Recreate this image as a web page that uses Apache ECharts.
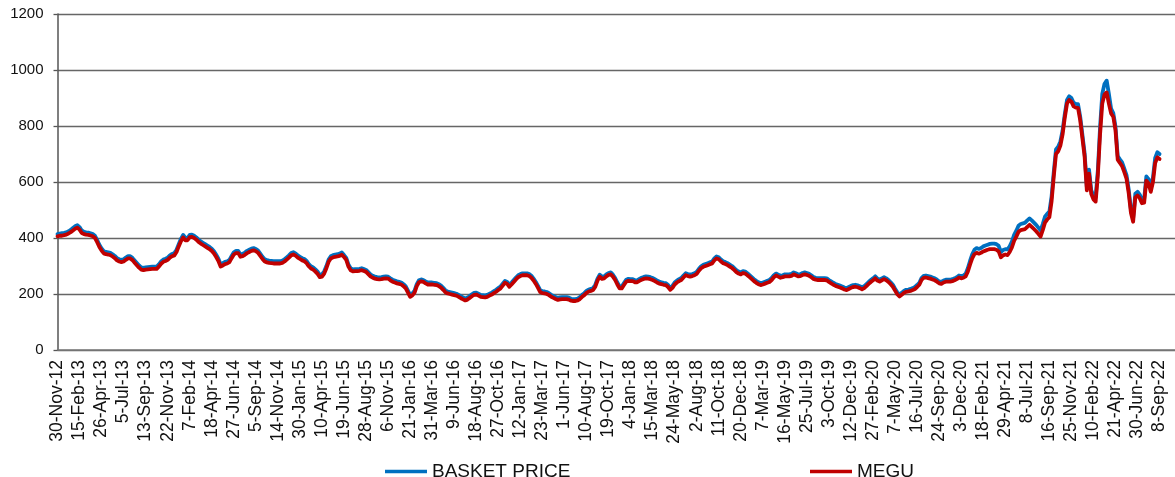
<!DOCTYPE html>
<html>
<head>
<meta charset="utf-8">
<script src="https://cdn.jsdelivr.net/npm/echarts@6/dist/echarts.min.js"></script>
<style>
html,body{margin:0;padding:0;background:#fff;}
#chart{width:1175px;height:477px;}
</style>
</head>
<body>
<div id="chart"></div>
<script>
const tickLabels = ['30-Nov-12','15-Feb-13','26-Apr-13','5-Jul-13','13-Sep-13','22-Nov-13','7-Feb-14','18-Apr-14','27-Jun-14','5-Sep-14','14-Nov-14','30-Jan-15','10-Apr-15','19-Jun-15','28-Aug-15','6-Nov-15','21-Jan-16','31-Mar-16','9-Jun-16','18-Aug-16','27-Oct-16','12-Jan-17','23-Mar-17','1-Jun-17','10-Aug-17','19-Oct-17','4-Jan-18','15-Mar-18','24-May-18','2-Aug-18','11-Oct-18','20-Dec-18','7-Mar-19','16-May-19','25-Jul-19','3-Oct-19','12-Dec-19','27-Feb-20','7-May-20','16-Jul-20','24-Sep-20','3-Dec-20','18-Feb-21','29-Apr-21','8-Jul-21','16-Sep-21','25-Nov-21','10-Feb-22','21-Apr-22','30-Jun-22','8-Sep-22'];

const basketPrice = [
414,416,417,418,420,424,429,436,442,446,
439,427,422,420,419,417,414,408,393,376,
363,353,350,349,347,342,336,328,324,322,
324,330,335,335,329,320,311,302,295,293,
295,296,297,298,298,298,306,316,323,326,
330,338,343,346,358,378,397,411,401,400,
411,412,408,402,394,388,383,378,373,368,
362,353,340,326,306,310,315,317,322,336,
349,354,354,341,343,348,354,358,362,364,
361,355,344,333,324,321,319,318,317,317,
317,317,319,324,331,338,346,349,345,338,
333,328,325,318,307,299,295,288,280,268,
270,281,300,323,335,339,341,342,344,348,
339,329,305,292,288,289,289,290,292,289,
286,278,270,265,262,260,259,260,262,263,
262,256,251,248,245,243,241,235,227,212,
197,202,212,235,249,252,250,245,241,241,
241,240,239,235,230,222,213,209,207,205,
203,201,197,192,188,184,187,193,199,204,
205,201,197,196,195,197,201,205,210,215,
221,227,237,247,243,233,241,250,259,267,
271,274,274,274,271,265,255,243,229,214,
210,209,207,203,197,193,189,186,188,189,
189,189,187,183,182,182,184,189,197,203,
211,216,218,221,233,255,269,261,263,270,
275,277,269,257,241,227,227,239,251,254,
253,253,249,249,254,258,261,263,262,260,
257,253,248,244,242,240,239,232,222,229,
241,248,253,257,266,274,271,269,271,274,
279,290,299,304,307,310,313,316,327,334,
331,323,317,314,310,305,300,293,285,280,
277,282,280,274,267,260,253,247,242,239,
241,244,247,250,257,267,273,269,265,267,
270,270,270,272,277,274,270,271,275,277,
275,272,267,261,258,257,257,257,257,256,
250,245,240,236,233,230,227,223,221,225,
229,232,233,231,228,224,228,235,243,250,
256,263,255,251,256,260,256,250,242,233,
219,206,198,204,211,215,216,218,221,225,
232,240,257,265,266,264,262,259,256,251,
245,243,248,251,251,251,253,256,260,266,
264,266,272,292,318,342,358,364,361,364,
370,373,376,379,380,380,378,372,350,357,
360,359,370,387,411,426,444,450,452,455,
463,470,463,455,447,437,427,450,476,486,
494,548,636,716,726,745,784,843,893,906,
900,883,879,878,833,768,703,583,644,571,
552,545,642,795,915,950,962,915,862,846,
798,693,681,670,648,625,573,502,470,558,
565,555,537,539,620,610,580,616,686,706,
700];

const megu = [
406,408,408,410,412,416,421,427,433,437,
430,418,414,412,411,409,406,400,385,368,
355,345,342,341,339,334,328,320,316,314,
316,322,327,327,321,312,303,294,287,285,
287,288,289,290,290,290,298,308,315,318,
322,330,335,338,350,370,388,402,392,392,
403,404,400,394,386,380,375,370,365,360,
354,345,332,318,298,302,307,309,314,328,
341,346,346,333,335,340,346,350,354,356,
353,347,336,325,316,313,311,310,309,309,
309,309,311,316,323,330,338,341,337,330,
325,320,317,310,299,291,287,280,272,260,
262,273,292,315,327,331,333,334,336,340,
332,322,298,285,281,282,282,283,285,282,
279,271,263,258,255,253,252,253,255,256,
255,249,244,241,238,236,234,228,220,205,
190,195,205,228,242,245,243,238,234,234,
234,233,232,228,223,215,206,202,200,198,
196,194,190,185,181,177,180,186,192,197,
198,194,190,189,188,190,194,198,203,208,
214,220,230,240,236,226,234,243,252,260,
264,267,267,267,264,258,248,236,222,207,
203,202,200,196,190,186,182,179,181,182,
182,182,180,176,175,175,177,182,190,196,
204,209,211,214,226,248,262,254,256,263,
268,270,262,250,234,220,220,232,244,247,
246,246,242,242,247,251,254,256,255,253,
250,246,241,237,235,233,232,225,215,222,
234,241,246,250,259,267,264,262,264,267,
272,283,292,297,300,303,306,309,320,327,
324,316,310,307,303,298,293,286,278,273,
270,275,273,267,260,253,246,240,235,232,
234,237,240,243,250,260,266,262,258,260,
263,263,263,265,270,267,263,264,268,270,
268,265,260,254,251,250,250,250,250,249,
243,238,233,229,226,223,220,216,214,218,
222,225,226,224,221,217,221,228,236,243,
249,256,248,244,249,253,249,243,235,226,
212,199,191,197,204,208,209,211,214,218,
225,233,250,258,259,257,255,252,249,244,
238,236,241,244,244,244,246,249,253,259,
256,258,263,280,305,327,342,347,344,347,
352,355,358,360,360,360,358,352,331,338,
341,339,350,366,390,405,422,428,430,432,
440,447,440,432,424,415,405,428,455,466,
474,530,620,700,710,730,770,830,880,893,
887,870,866,865,820,755,690,570,630,558,
538,530,625,770,880,912,920,880,845,833,
785,680,668,657,635,612,560,490,458,545,
552,542,524,526,605,595,565,600,668,688,
682];

const yTicks = [0, 200, 400, 600, 800, 1000, 1200];

// category axis: one slot per weekly observation, plus a few empty slots at the right end
const totalSlots = megu.length + 7;
const categories = [];
for (let i = 0; i < totalSlots; i++) {
  categories.push(i % 10 === 0 && i / 10 < tickLabels.length ? tickLabels[i / 10] : 'w' + i);
}

const chart = echarts.init(document.getElementById('chart'), null, {renderer: 'canvas'});
chart.setOption({
  animation: false,
  backgroundColor: '#ffffff',
  grid: {left: 57.5, top: 14, right: 0, bottom: 127, containLabel: false},
  legend: [
    {
      data: ['BASKET PRICE'], left: 380, top: 457, icon: 'rect', itemWidth: 42, itemHeight: 3.5,
      textStyle: {fontFamily: 'Liberation Sans', fontSize: 19, color: '#111'}
    },
    {
      data: ['MEGU'], left: 805, top: 457, icon: 'rect', itemWidth: 42, itemHeight: 3.5,
      textStyle: {fontFamily: 'Liberation Sans', fontSize: 19, color: '#111'}
    }
  ],
  xAxis: {
    type: 'category',
    data: categories,
    boundaryGap: false,
    axisLine: {show: true, lineStyle: {color: '#7a7a7a', width: 1.5}},
    axisTick: {show: false},
    splitLine: {show: false},
    axisLabel: {
      interval: function (i) { return i % 10 === 0 && i <= 500; },
      rotate: 90,
      margin: 10,
      fontFamily: 'Liberation Sans',
      fontSize: 17.5,
      color: '#111'
    }
  },
  yAxis: {
    type: 'value',
    min: yTicks[0],
    max: yTicks[yTicks.length - 1],
    interval: 200,
    axisLine: {show: true, lineStyle: {color: '#555', width: 1.5}},
    axisTick: {show: true, length: 4, lineStyle: {color: '#555', width: 1.3}},
    splitLine: {show: true, lineStyle: {color: '#666', width: 1.3}},
    axisLabel: {
      margin: 14, fontFamily: 'Liberation Sans', fontSize: 15, color: '#111',
      formatter: function (v) { return String(v); }
    }
  },
  series: [
    {
      name: 'BASKET PRICE', type: 'line', data: basketPrice, symbol: 'none', smooth: false,
      color: '#0070C0',
      lineStyle: {color: '#0070C0', width: 3.8, join: 'round', cap: 'round'},
      z: 2
    },
    {
      name: 'MEGU', type: 'line', data: megu, symbol: 'none', smooth: false,
      color: '#C00000',
      lineStyle: {color: '#C00000', width: 3.8, join: 'round', cap: 'round'},
      z: 3
    }
  ]
});
</script>
</body>
</html>
